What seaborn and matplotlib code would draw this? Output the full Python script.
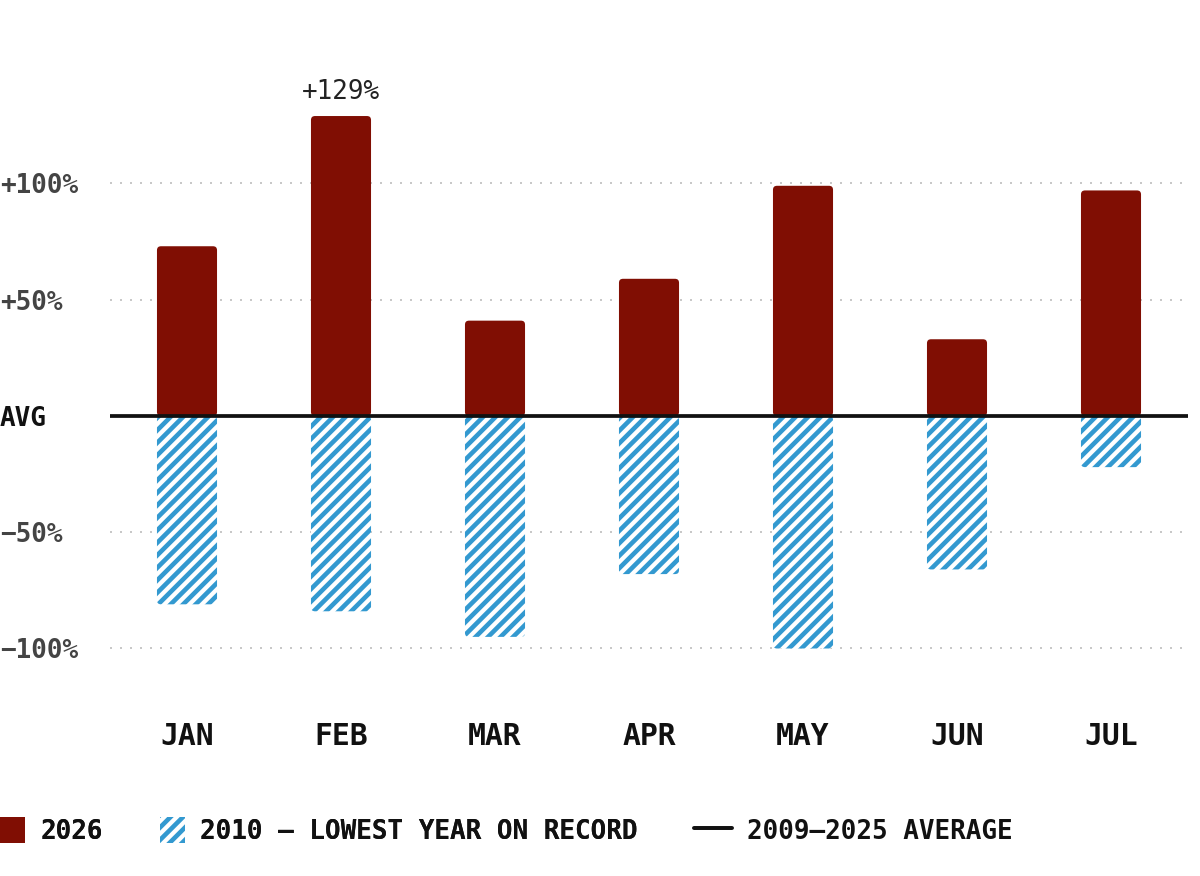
import matplotlib.pyplot as plt
import pandas as pd
import seaborn as sns
from matplotlib.lines import Line2D
from matplotlib.patches import FancyBboxPatch, Patch

months = ['JAN', 'FEB', 'MAR', 'APR', 'MAY', 'JUN', 'JUL']
vals_2026 = [73, 129, 41, 59, 99, 33, 97]
vals_2010 = [-81, -84, -95, -68, -100, -66, -22]
ytick_vals = [-100, -50, 0, 50, 100]
ytick_labels = ['\u2212100%', '\u221250%', 'AVG', '+50%', '+100%']

RED = '#800e03'
BLUE = '#3399d0'
MONO = 'DejaVu Sans Mono'

sns.set_theme(style='white')
plt.rcParams['font.family'] = [MONO, 'DejaVu Sans']
plt.rcParams['hatch.linewidth'] = 2.2

df = pd.DataFrame({'month': months, 'y2026': vals_2026, 'y2010': vals_2010})

fig = plt.figure(figsize=(8, 5.84), dpi=150)
ax = fig.add_axes([110 / 1200, 1 - 700 / 876, 1078 / 1200, 660 / 876])

sns.barplot(data=df, x='month', y='y2026', color=RED, width=0.39, saturation=1, ax=ax)
sns.barplot(data=df, x='month', y='y2010', color=BLUE, width=0.39, saturation=1, ax=ax)

ax.set_xlim(-0.5, len(months) - 0.5)
ax.set_ylim(-122.15, 161.7)

# swap plain rectangles for slightly rounded ones (same geometry)
x_px = 1078 / len(months)
y_px = 660 / (161.7 + 122.15)
aspect = x_px / y_px
r = 4 / x_px
n = len(months)
rects = list(ax.patches)
for i, p in enumerate(rects):
    x, y = p.get_x(), p.get_y()
    w, h = p.get_width(), p.get_height()
    if h < 0:
        y, h = y + h, -h
    p.remove()
    if i < n:
        fb = FancyBboxPatch((x, y), w, h, boxstyle=f'round,pad=0,rounding_size={r}',
                            mutation_aspect=aspect, facecolor=RED, edgecolor='none', zorder=2)
    else:
        fb = FancyBboxPatch((x, y), w, h, boxstyle=f'round,pad=0,rounding_size={r}',
                            mutation_aspect=aspect, facecolor='white', edgecolor=BLUE,
                            linewidth=0, hatch='////', zorder=2)
    ax.add_patch(fb)

for v in [-100, -50, 50, 100]:
    ax.axhline(v, color='#c8c8c8', lw=0.96, ls=(0, (1, 4)), zorder=1)
ax.axhline(0, color='#111111', lw=1.8, zorder=3)

# label on the peak
peak = vals_2026.index(max(vals_2026))
ax.annotate(f'+{vals_2026[peak]}%', xy=(peak, vals_2026[peak]), xytext=(0, 5.5),
            textcoords='offset points', ha='center', va='bottom',
            fontsize=12.5, color='#222222', family=MONO)

ax.set_yticks(ytick_vals)
ax.set_yticklabels(ytick_labels, fontsize=12.5, fontweight='bold', color='#444444', ha='left')
for lbl in ax.get_yticklabels():
    if lbl.get_text() == 'AVG':
        lbl.set_color('#111111')
ax.tick_params(axis='y', length=0, pad=52.8)
ax.tick_params(axis='x', length=0, pad=10.5, labelsize=14.3)
for lbl in ax.get_xticklabels():
    lbl.set_fontweight('bold')
    lbl.set_color('#111111')
ax.set_xlabel('')
ax.set_ylabel('')
sns.despine(ax=ax, left=True, bottom=True)

fs = 26
prop = {'family': MONO, 'weight': 'bold', 'size': 12.5}
common = dict(loc='center left', bbox_transform=fig.transFigure, frameon=False,
              borderaxespad=0, borderpad=0, handleheight=30 / fs, handletextpad=15 / fs,
              prop=prop, labelcolor='#111111')

bar_handles = [
    Patch(facecolor=RED, edgecolor='none'),
    Patch(facecolor='white', edgecolor=BLUE, linewidth=0, hatch='////'),
]
bar_labels = ['2026', '2010 \u2014 LOWEST YEAR ON RECORD']
leg1 = fig.legend(bar_handles, bar_labels, bbox_to_anchor=(0, 45 / 876), ncol=2,
                  handlelength=25 / fs, columnspacing=57 / fs, **common)

line_handle = Line2D([0], [0], color='#111111', lw=1.9)
fig.legend([line_handle], ['2009\u20132025 AVERAGE'], bbox_to_anchor=(694 / 1200, 45 / 876),
           handlelength=38 / fs, **common)
fig.add_artist(leg1)

fig.savefig('out.png', dpi=150)
